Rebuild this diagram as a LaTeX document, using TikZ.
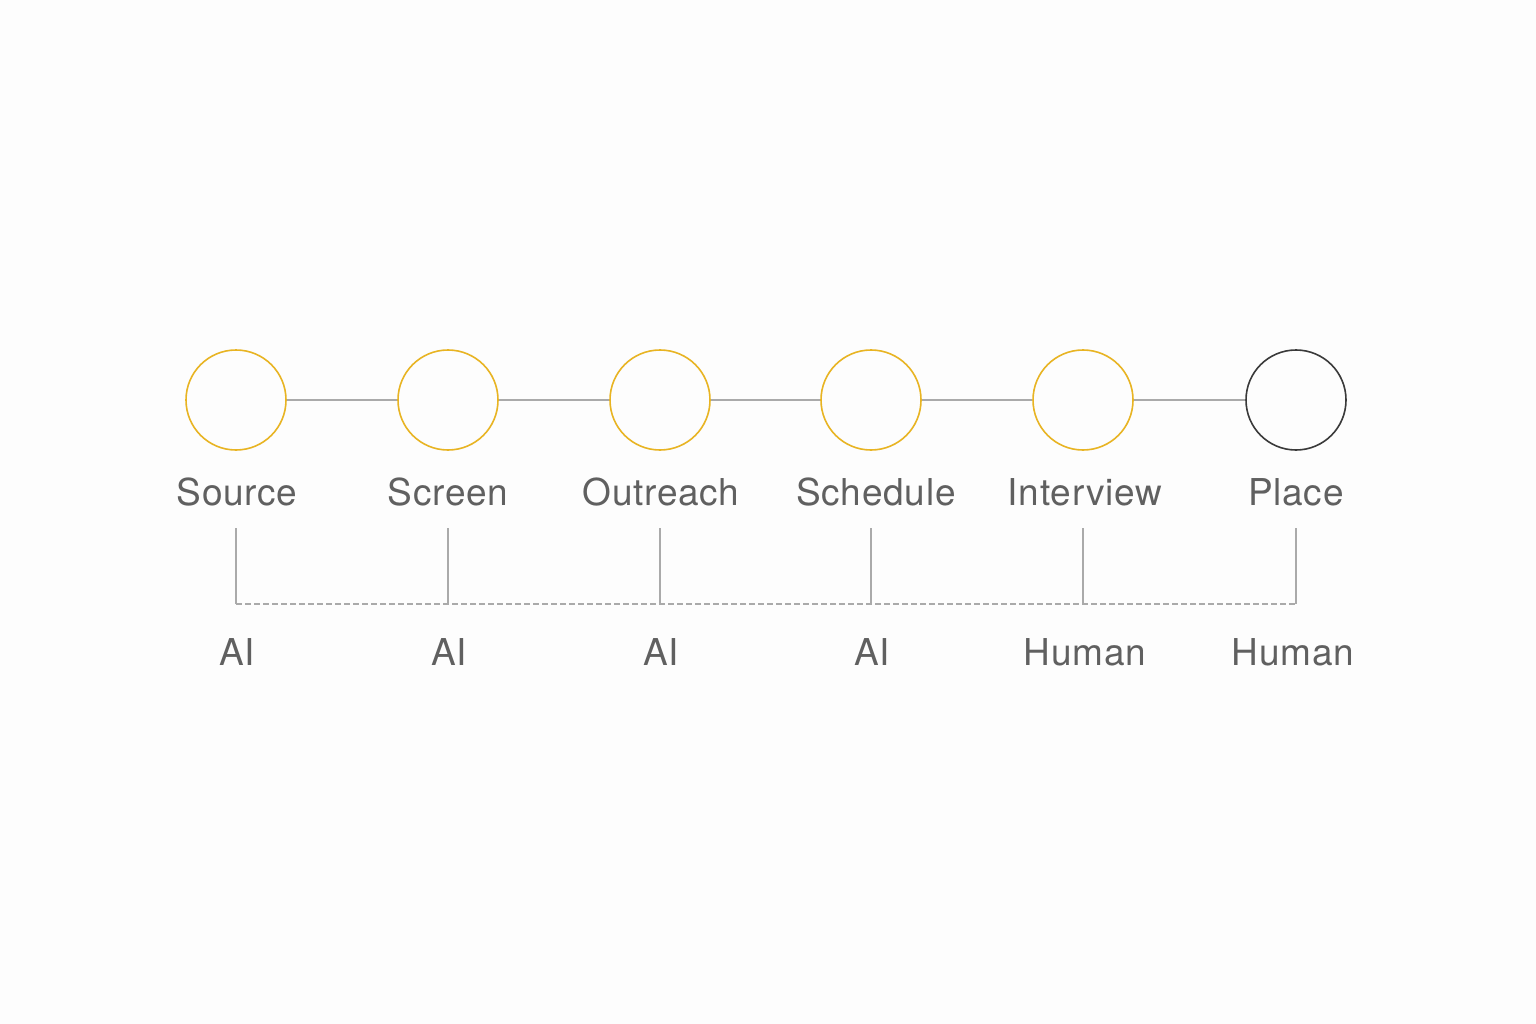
\documentclass[tikz,border=0pt]{standalone}
\usepackage{fontspec}
\setmainfont{TeX Gyre Heros}[LetterSpace=2]
\begin{document}
\begin{tikzpicture}[x=1pt,y=-1pt,
  aistep/.style={circle,draw=ringgold,line width=1.6pt,minimum size=100pt,inner sep=0pt},
  endstep/.style={circle,draw=ringdark,line width=1.6pt,minimum size=100pt,inner sep=0pt},
  steplabel/.style={font=\fontsize{37}{40}\selectfont,text=labelgray,anchor=base,inner sep=0pt},
  rolelabel/.style={font=\fontsize{37}{40}\selectfont,text=labelgray,anchor=base,inner sep=0pt},
  link/.style={draw=linegray,line width=1.2pt},
  tick/.style={draw=linegray,line width=1.1pt},
  dashline/.style={draw=linegray,line width=1.1pt,dash pattern=on 5.5pt off 3.5pt}]
\definecolor{ringgold}{HTML}{E8B423}
\definecolor{ringdark}{HTML}{3A3A3A}
\definecolor{labelgray}{HTML}{606060}
\definecolor{linegray}{HTML}{AAAAAA}
\definecolor{bggray}{HTML}{FDFDFD}
\fill[bggray] (0,0) rectangle (1536,1024);
\useasboundingbox (0,0) rectangle (1536,1024);
% circles
\node[aistep] (c1) at (236,400) {};
\node[aistep] (c2) at (448,400) {};
\node[aistep] (c3) at (660,400) {};
\node[aistep] (c4) at (871,400) {};
\node[aistep] (c5) at (1083,400) {};
\node[endstep] (c6) at (1296,400) {};
\draw[link] (c1) -- (c2);
\draw[link] (c2) -- (c3);
\draw[link] (c3) -- (c4);
\draw[link] (c4) -- (c5);
\draw[link] (c5) -- (c6);
% labels
\node[steplabel] (l1) at (237,505) {Source};
\node[steplabel] (l2) at (448,505) {Screen};
\node[steplabel] (l3) at (661,505) {Outreach};
\node[steplabel] (l4) at (876,505) {Schedule};
\node[steplabel] (l5) at (1085,505) {Interview};
\node[steplabel] (l6) at (1296,505) {Place};
% ticks
\coordinate (t1) at (236,528); \coordinate (b1) at (236,604);
\coordinate (t2) at (448,528); \coordinate (b2) at (448,604);
\coordinate (t3) at (660,528); \coordinate (b3) at (660,604);
\coordinate (t4) at (871,528); \coordinate (b4) at (871,604);
\coordinate (t5) at (1083,528); \coordinate (b5) at (1083,604);
\coordinate (t6) at (1296,528); \coordinate (b6) at (1296,604);
\draw[tick] (t1) -- (b1);
\draw[tick] (t2) -- (b2);
\draw[tick] (t3) -- (b3);
\draw[tick] (t4) -- (b4);
\draw[tick] (t5) -- (b5);
\draw[tick] (t6) -- (b6);
\draw[dashline] (b1) -- (b6);
% roles
\node[rolelabel] (r1) at (237,665) {AI};
\node[rolelabel] (r2) at (449,665) {AI};
\node[rolelabel] (r3) at (661,665) {AI};
\node[rolelabel] (r4) at (872,665) {AI};
\node[rolelabel] (r5) at (1085,665) {Human};
\node[rolelabel] (r6) at (1293,665) {Human};
\end{tikzpicture}
\end{document}
